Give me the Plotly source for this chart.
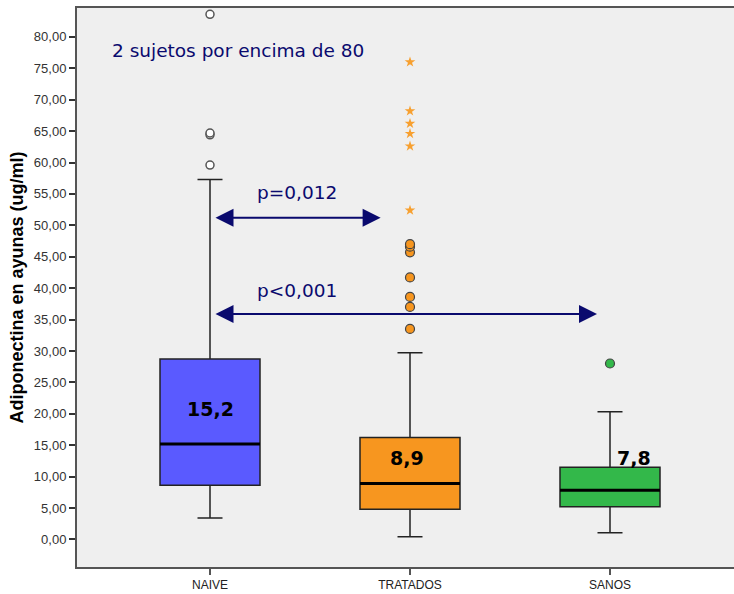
import plotly.graph_objects as go

groups = ["NAIVE", "TRATADOS", "SANOS"]
q1 = [8.6, 4.8, 5.2]
median = [15.2, 8.9, 7.8]
q3 = [28.7, 16.2, 11.5]
lowerfence = [3.4, 0.4, 1.05]
upperfence = [57.3, 29.7, 20.3]
fill_colors = ["#5a5aff", "#f7961f", "#33b84a"]

naive_outliers = [59.6, 64.4, 64.7, 83.6]
tratados_outliers = [33.5, 37.0, 38.6, 41.7, 45.7, 46.6, 47.0]
tratados_extremes = [52.4, 62.6, 64.6, 66.2, 68.2, 76.0]
sanos_outliers = [28.0]

median_labels = ["15,2", "8,9", "7,8"]
tick_vals = list(range(0, 85, 5))
tick_text = [f"{v:.2f}".replace(".", ",") for v in tick_vals]

fig = go.Figure()
bw = 0.5
for i, g in enumerate(groups):
    fig.add_trace(go.Box(
        x=[i], q1=[q1[i]], median=[median[i]], q3=[q3[i]],
        lowerfence=[lowerfence[i]], upperfence=[upperfence[i]],
        width=bw, whiskerwidth=0.25, fillcolor=fill_colors[i],
        line=dict(color="#222222", width=1.5), boxpoints=False,
        showlegend=False, hoverinfo="skip"))
    fig.add_trace(go.Scatter(
        x=[i - bw / 2, i + bw / 2], y=[median[i], median[i]], mode="lines",
        line=dict(color="black", width=3), showlegend=False, hoverinfo="skip"))

fig.add_trace(go.Scatter(
    x=[0] * len(naive_outliers), y=naive_outliers, mode="markers",
    marker=dict(symbol="circle", size=8, color="white",
                line=dict(color="#555555", width=1.5)), showlegend=False))
fig.add_trace(go.Scatter(
    x=[1] * len(tratados_outliers), y=tratados_outliers, mode="markers",
    marker=dict(symbol="circle", size=9, color=fill_colors[1],
                line=dict(color="#444444", width=1.2)), showlegend=False))
fig.add_trace(go.Scatter(
    x=[1] * len(tratados_extremes), y=tratados_extremes, mode="markers",
    marker=dict(symbol="star", size=8, color="#f7a030",
                line=dict(width=0)), showlegend=False))
fig.add_trace(go.Scatter(
    x=[2] * len(sanos_outliers), y=sanos_outliers, mode="markers",
    marker=dict(symbol="circle", size=9, color=fill_colors[2],
                line=dict(color="#444444", width=1.2)), showlegend=False))

navy = "#0a0a6e"
annotations = []
# median labels
label_pos = [(0, 20.7), (0.985, 13.0), (2.12, 13.0)]
for (lx, ly), t in zip(label_pos, median_labels):
    annotations.append(dict(x=lx, y=ly, text=f"<b>{t}</b>", showarrow=False,
                            font=dict(family="DejaVu Sans", size=19, color="black")))
# arrows
for (x0, x1, yy) in [(0.02, 0.853, 51.2), (0.02, 1.935, 35.9)]:
    annotations.append(dict(x=x1, y=yy, ax=x0, ay=yy, xref="x", yref="y",
                            axref="x", ayref="y", showarrow=True, arrowhead=2,
                            startarrowhead=2, arrowside="end+start",
                            arrowsize=1.8, startarrowsize=1.8, arrowwidth=2,
                            arrowcolor=navy, text=""))
annotations.append(dict(x=0.435, y=55.2, text="p=0,012", showarrow=False,
                        font=dict(family="DejaVu Sans", size=18.5, color=navy)))
annotations.append(dict(x=0.435, y=39.7, text="p<0,001", showarrow=False,
                        font=dict(family="DejaVu Sans", size=18.5, color=navy)))
annotations.append(dict(x=-0.5, y=77.9, xanchor="left", text="2 sujetos por encima de 80",
                        showarrow=False,
                        font=dict(family="DejaVu Sans", size=18.5, color=navy)))

fig.update_layout(
    width=734, height=594,
    margin=dict(l=77, r=0, t=8, b=27),
    paper_bgcolor="white", plot_bgcolor="#efefef",
    annotations=annotations,
    font=dict(family="Liberation Sans, Arial", size=12, color="#333333"),
    xaxis=dict(range=[-0.665, 2.62], tickvals=[0, 1, 2], ticktext=groups,
               showgrid=False, zeroline=False, showline=True, linecolor="#555555",
               linewidth=2, mirror=True, ticks="outside", ticklen=6,
               tickcolor="#555555", tickwidth=2,
               tickfont=dict(family="Liberation Sans, Arial", size=12, color="#222222")),
    yaxis=dict(range=[-4.4, 84.6], tickvals=tick_vals, ticktext=tick_text,
               showgrid=False, zeroline=False, showline=True, linecolor="#555555",
               linewidth=2, ticks="outside", ticklen=6, tickcolor="#333333", tickwidth=2,
               tickfont=dict(family="Liberation Sans, Arial", size=13, color="#333333"),
               title=dict(text="<b>Adiponectina en ayunas (ug/ml)</b>", standoff=6,
                          font=dict(family="Liberation Sans, Arial", size=18, color="black"))),
)

fig.write_html("out.html", config={"displayModeBar": False},
               post_script="document.head.insertAdjacentHTML('beforeend',"
                           "'<style>::-webkit-scrollbar{display:none;width:0}"
                           "html,body{margin:0;padding:0;overflow:hidden}</style>');"
                           "document.body.style.margin='0';"
                           "document.body.style.overflow='hidden';"
                           "document.documentElement.style.overflow='hidden';")
